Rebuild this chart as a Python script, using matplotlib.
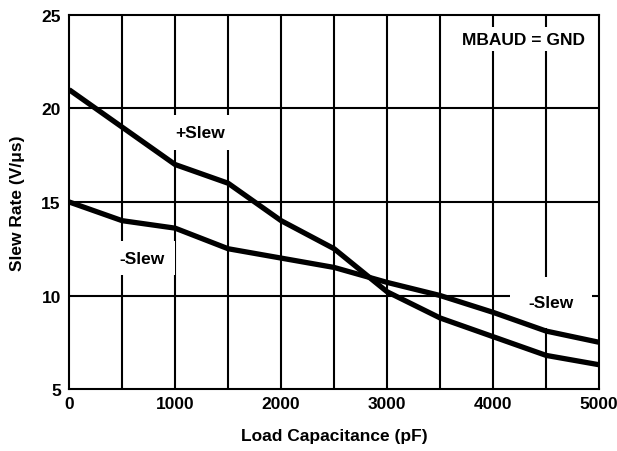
import numpy as np
import matplotlib
matplotlib.use('Agg')
import matplotlib.pyplot as plt

# data
cap_pf = [0, 500, 1000, 1500, 2000, 2500, 3000, 3500, 4000, 4500, 5000]
slew_pos = [21.0, 19.0, 17.0, 16.0, 14.0, 12.5, 10.2, 8.8, 7.8, 6.8, 6.3]
slew_neg = [15.0, 14.0, 13.6, 12.5, 12.0, 11.5, 10.7, 10.0, 9.1, 8.1, 7.5]

x_ticks = [0, 1000, 2000, 3000, 4000, 5000]
y_ticks = [5, 10, 15, 20, 25]

plt.rcParams['font.family'] = ['Liberation Sans', 'DejaVu Sans']
plt.rcParams['font.weight'] = 'bold'

fig = plt.figure(figsize=(6.17, 4.52), dpi=100)
ax = fig.add_axes([0.112, 0.137, 0.859, 0.828])

# grid, drawn under the curves
for xv in np.arange(500, 5000, 500):
    ax.axvline(xv, color='black', lw=1.5, zorder=1)
for yv in [10, 15, 20]:
    ax.axhline(yv, color='black', lw=1.5, zorder=1)

ax.plot(cap_pf, slew_pos, color='black', lw=3.8, zorder=3, solid_capstyle='butt')
ax.plot(cap_pf, slew_neg, color='black', lw=3.8, zorder=3, solid_capstyle='butt')

fs = 12.5
ax.text(1240, 18.7, '+Slew', ha='center', va='center', fontsize=fs,
        fontweight='bold', bbox=dict(facecolor='white', edgecolor='none', pad=7), zorder=2)
ax.text(690, 12.0, '-Slew', ha='center', va='center', fontsize=fs,
        fontweight='bold', bbox=dict(facecolor='white', edgecolor='none', pad=7), zorder=2)
ax.text(4545, 9.65, '-Slew', ha='center', va='center', fontsize=fs,
        fontweight='bold', bbox=dict(facecolor='white', edgecolor='none', pad=13), zorder=2)
ax.text(4285, 23.7, 'MBAUD = GND', ha='center', va='center', fontsize=fs,
        fontweight='bold', bbox=dict(facecolor='white', edgecolor='none', pad=3), zorder=2)

ax.set_xlim(0, 5000)
ax.set_ylim(5, 25)
ax.set_xticks(x_ticks)
ax.set_yticks(y_ticks)
ax.tick_params(length=0, labelsize=12.5)
ax.tick_params(axis='y', pad=6)
ax.tick_params(axis='x', pad=5)
for lbl in ax.get_xticklabels() + ax.get_yticklabels():
    lbl.set_fontweight('bold')
for sp in ax.spines.values():
    sp.set_linewidth(1.5)

ax.set_xlabel('Load Capacitance (pF)', fontsize=fs, fontweight='bold', labelpad=12)
ax.set_ylabel('Slew Rate (V/μs)', fontsize=fs, fontweight='bold', labelpad=12)

fig.savefig('out.png', dpi=100)
